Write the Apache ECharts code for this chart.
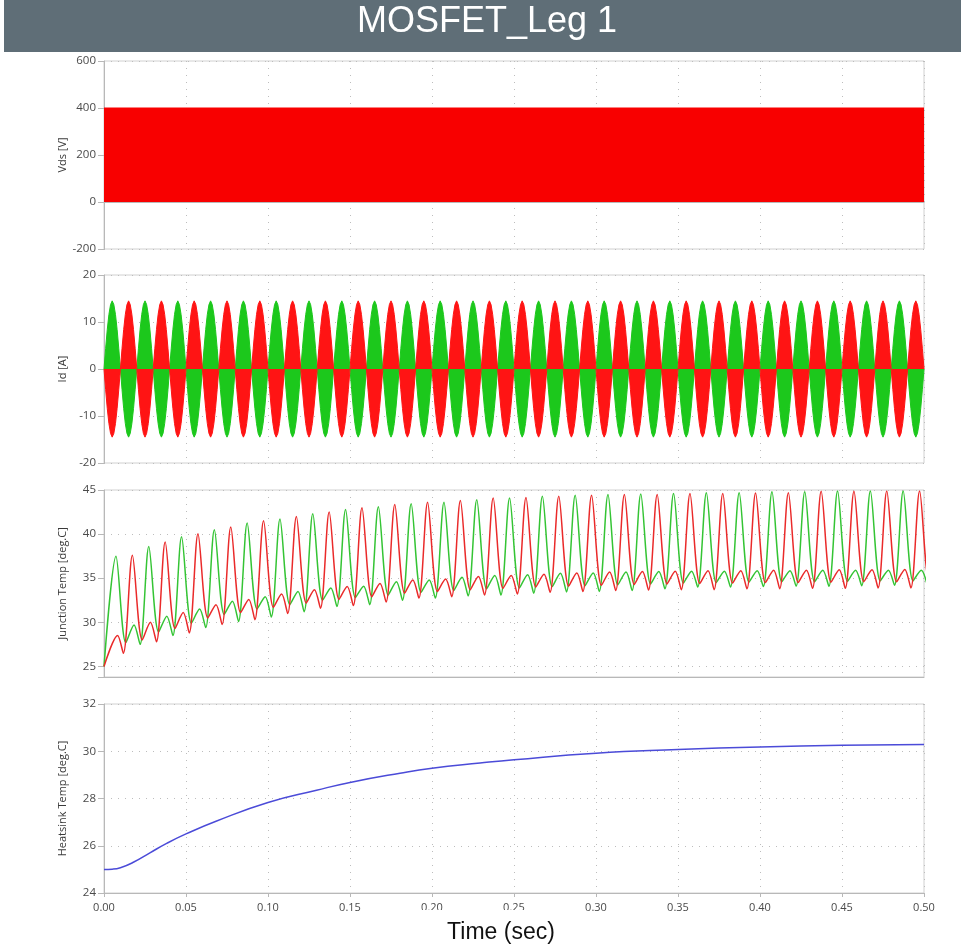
<!DOCTYPE html>
<html>
<head>
<meta charset="utf-8">
<script src="https://cdn.jsdelivr.net/npm/echarts@6/dist/echarts.min.js"></script>
<style>
html,body{margin:0;padding:0;background:#fff;}
#chart{width:961px;height:951px;}
</style>
</head>
<body>
<div id="chart"></div>
<script>
// ---------------- data ----------------
const chartTitle = 'MOSFET_Leg 1';
const xAxisTitle = 'Time (sec)';
const panelNames = ['Vds [V]', 'Id [A]', 'Junction Temp [deg.C]', 'Heatsink Temp [deg.C]'];

// Vds: PWM switching between 0 V and 400 V over the whole run (drawn as its envelope)
const vdsTime = [0, 0.5];
const vdsHigh = [400, 400];

// Id: 50 Hz current lobes (one half cycle sampled every 1 ms), 25 cycles
const idPeriod = 0.02;
const idCycles = 25;
const idHalfLobe = [0, 4.4, 8.4, 11.6, 13.7, 14.5, 13.7, 11.6, 8.4, 4.4, 0];

// Junction temperature: per 20 ms cycle -> peak, valley after peak, small bump, dip before next peak
const jPeriod = 0.02;
const jGreenPeakT0 = 0.0073;
const jRedPeakT0 = 0.0173;
const jPhase = [0, 0.006, 0.011, 0.0147]; // peak, valley, bump, dip (s after peak)
const jGreenPeak = [37.5, 38.6, 39.7, 40.5, 41.25, 41.7, 42.3, 42.8, 43.1, 43.45, 43.6, 43.9, 44.1, 44.3, 44.4, 44.5, 44.55, 44.6, 44.7, 44.7, 44.8, 44.8, 44.9, 44.9, 44.9];
const jGreenValley = [27.7, 28.9, 29.9, 30.9, 31.5, 32.0, 32.5, 32.8, 33.1, 33.4, 33.6, 33.8, 33.9, 34.05, 34.15, 34.25, 34.35, 34.45, 34.5, 34.55, 34.6, 34.6, 34.65, 34.7, 34.7];
const jGreenBump = [29.7, 30.7, 31.5, 32.4, 32.9, 33.5, 33.9, 34.1, 34.6, 34.8, 35.1, 35.3, 35.4, 35.55, 35.6, 35.7, 35.75, 35.8, 35.8, 35.85, 35.85, 35.9, 35.9, 35.9, 35.9];
const jGreenDip = [27.5, 28.5, 29.4, 30.1, 30.6, 31.2, 31.8, 32.0, 32.5, 32.75, 33.0, 33.1, 33.3, 33.45, 33.5, 33.6, 33.8, 34.0, 34.0, 34.05, 34.1, 34.1, 34.15, 34.2, 34.2];
const jRedStart = [[0, 25], [0.0083, 28.5], [0.0118, 26.5]];
const jRedPeak = [37.6, 39.1, 40.05, 40.8, 41.5, 42.0, 42.5, 43.0, 43.35, 43.6, 43.8, 44.1, 44.15, 44.3, 44.4, 44.5, 44.5, 44.6, 44.6, 44.65, 44.7, 44.85, 44.85, 44.9, 44.9];
const jRedValley = [28.0, 29.3, 30.5, 31.1, 31.7, 32.2, 32.6, 32.9, 33.3, 33.5, 33.7, 33.85, 34.0, 34.1, 34.2, 34.3, 34.35, 34.4, 34.45, 34.5, 34.5, 34.55, 34.6, 34.6, 34.6];
const jRedBump = [30.0, 31.1, 32.0, 32.6, 33.2, 33.7, 34.05, 34.4, 34.8, 34.9, 35.2, 35.3, 35.45, 35.6, 35.7, 35.75, 35.8, 35.85, 35.85, 35.9, 35.9, 35.95, 35.95, 36.0, 36.0];
const jRedDip = [27.8, 28.8, 29.75, 30.3, 31.0, 31.6, 31.9, 32.3, 32.75, 32.9, 33.1, 33.2, 33.4, 33.5, 33.6, 33.65, 33.7, 33.7, 33.8, 33.8, 33.85, 33.85, 33.9, 33.9, 33.9];

// Heatsink temperature
const hsTime = [0, 0.005, 0.01, 0.0179, 0.028, 0.0382, 0.05, 0.0687, 0.1, 0.1296, 0.15, 0.1805, 0.2, 0.2293, 0.25, 0.3, 0.35, 0.4, 0.45, 0.5];
const hsTemp = [25.0, 25.01, 25.07, 25.3, 25.7, 26.1, 26.5, 27.05, 27.83, 28.35, 28.68, 29.07, 29.28, 29.5, 29.64, 29.92, 30.07, 30.18, 30.25, 30.29];

// ---------------- build series data ----------------
function idSeries(firstSign) {
  const out = [];
  const n = idHalfLobe.length - 1;
  for (let c = 0; c < idCycles; c++) {
    for (let h = 0; h < 2; h++) {
      const sign = h === 0 ? firstSign : -firstSign;
      const t0 = c * idPeriod + h * idPeriod / 2;
      for (let i = 0; i <= n; i++) {
        out.push([t0 + i * (idPeriod / 2) / n, sign * idHalfLobe[i]]);
      }
    }
  }
  return out;
}
function jSeries(start, t0, peak, valley, bump, dip) {
  const out = start.slice();
  for (let k = 0; k < peak.length; k++) {
    const tp = t0 + k * jPeriod;
    out.push([tp + jPhase[0], peak[k]]);
    out.push([tp + jPhase[1], valley[k]]);
    out.push([tp + jPhase[2], bump[k]]);
    out.push([tp + jPhase[3], dip[k]]);
  }
  return out;
}
const vdsData = vdsTime.map((t, i) => [t, vdsHigh[i]]);
const idGreen = idSeries(1);
const idRed = idSeries(-1);
const jGreen = jSeries([[0, 25]], jGreenPeakT0, jGreenPeak, jGreenValley, jGreenBump, jGreenDip);
const jRed = jSeries(jRedStart, jRedPeakT0, jRedPeak, jRedValley, jRedBump, jRedDip);
const hsData = hsTime.map((t, i) => [t, hsTemp[i]]);

// ---------------- chart ----------------
const FONT = 'Open Sans';
const grids = [
  {left: 104, top: 61, width: 820, height: 188},
  {left: 104, top: 275, width: 820, height: 188},
  {left: 104, top: 490, width: 820, height: 187},
  {left: 104, top: 704, width: 820, height: 189}
].map(g => Object.assign(g, {show: true, borderColor: '#d0d0d0', borderWidth: 1, containLabel: false}));

const dotted = {color: '#bdbdbd', width: 1, type: [1, 6]};

const xAxes = grids.map((g, i) => ({
  type: 'value', gridIndex: i, min: 0, max: 0.5, interval: 0.05,
  axisLine: {show: true, lineStyle: {color: '#b8b8b8'}},
  axisTick: {show: i === 3, length: 4, lineStyle: {color: '#b8b8b8'}},
  axisLabel: {show: i === 3, margin: 9, color: '#4a4a4a', fontSize: 11, fontFamily: FONT,
              formatter: v => v.toFixed(2)},
  splitLine: {show: true, lineStyle: dotted}
}));

const yRanges = [
  {min: -200, max: 600, interval: 200},
  {min: -20, max: 20, interval: 10},
  {min: 23.8, max: 45},
  {min: 24, max: 32, interval: 2}
];
const yAxes = yRanges.map((r, i) => Object.assign({
  type: 'value', gridIndex: i,
  name: panelNames[i], nameLocation: 'middle', nameGap: 36, nameMoveOverlap: false,
  nameTextStyle: {color: '#3a3a3a', fontSize: 11, fontFamily: FONT},
  axisLine: {show: true, lineStyle: {color: '#b8b8b8'}},
  axisTick: {show: true, length: 6, lineStyle: {color: '#b8b8b8'}},
  axisLabel: {margin: 8, color: '#4a4a4a', fontSize: 11.5, fontFamily: FONT,
              formatter: v => (i === 2 && Math.abs(v / 5 - Math.round(v / 5)) > 1e-6) ? '' : String(v)},
  splitLine: {show: true, lineStyle: dotted}
}, r, i === 2 ? {splitNumber: 4} : {}));

const option = {
  animation: false,
  backgroundColor: '#ffffff',
  grid: grids,
  xAxis: xAxes,
  yAxis: yAxes,
  graphic: [
    {type: 'rect', z: 100, shape: {x: 4, y: 0, width: 957, height: 52}, style: {fill: '#5f6e77'}},
    {type: 'text', z: 101, x: 487, y: 22,
     style: {text: chartTitle, fill: '#ffffff', fontSize: 36, fontFamily: 'Liberation Sans',
             align: 'center', verticalAlign: 'middle', textAlign: 'center', textVerticalAlign: 'middle'}},
    {type: 'rect', z: 100, shape: {x: 400, y: 910, width: 160, height: 41}, style: {fill: '#ffffff'}},
    {type: 'text', z: 101, x: 501, y: 933,
     style: {text: xAxisTitle, fill: '#111111', fontSize: 23, fontFamily: 'Liberation Sans',
             align: 'center', verticalAlign: 'middle', textAlign: 'center', textVerticalAlign: 'middle'}}
  ],
  series: [
    {type: 'line', xAxisIndex: 0, yAxisIndex: 0, data: vdsData, symbol: 'none',
     lineStyle: {color: '#f80000', width: 1}, areaStyle: {color: '#f80000', opacity: 1}},
    {type: 'line', xAxisIndex: 1, yAxisIndex: 1, data: idGreen, symbol: 'none',
     lineStyle: {color: '#1cc81c', width: 1}, areaStyle: {color: '#1cc81c', opacity: 1}},
    {type: 'line', xAxisIndex: 1, yAxisIndex: 1, data: idRed, symbol: 'none',
     lineStyle: {color: '#ff1414', width: 1}, areaStyle: {color: '#ff1414', opacity: 1}},
    {type: 'line', xAxisIndex: 2, yAxisIndex: 2, data: jGreen, symbol: 'none', smooth: 0.3,
     lineStyle: {color: '#34c434', width: 1.5}},
    {type: 'line', xAxisIndex: 2, yAxisIndex: 2, data: jRed, symbol: 'none', smooth: 0.3,
     lineStyle: {color: '#ea2a2a', width: 1.5}},
    {type: 'line', xAxisIndex: 3, yAxisIndex: 3, data: hsData, symbol: 'none', smooth: 0.5,
     lineStyle: {color: '#4b4bd8', width: 1.5}}
  ]
};

const chart = echarts.init(document.getElementById('chart'), null, {renderer: 'canvas'});
chart.setOption(option);
</script>
</body>
</html>
